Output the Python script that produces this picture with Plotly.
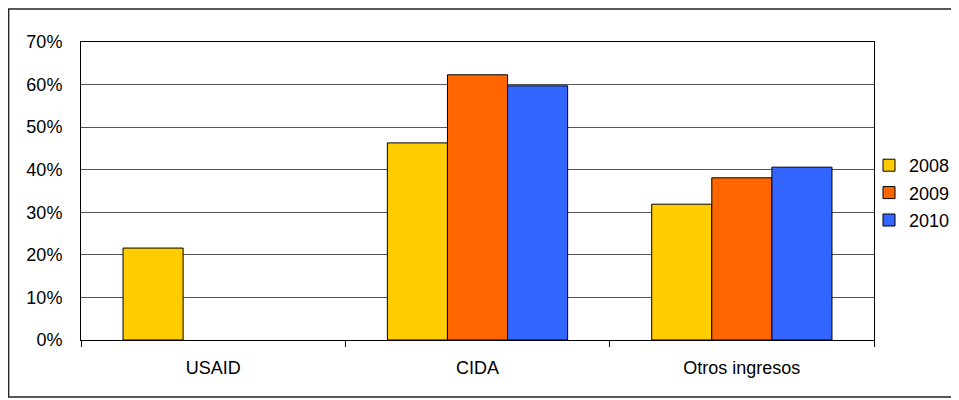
import plotly.graph_objects as go

categories = ["USAID", "CIDA", "Otros ingresos"]
years = ["2008", "2009", "2010"]
v2008 = [0.216, 0.463, 0.319]
v2009 = [None, 0.623, 0.381]
v2010 = [None, 0.597, 0.406]
y_ticks = [0, 0.1, 0.2, 0.3, 0.4, 0.5, 0.6, 0.7]
colors = ["#FFCC00", "#FF6600", "#3366FF"]

# page has an 8px body margin; figure coords = page coords - 8
OFF = 8
W, H = 959 - 2 * OFF, 400
L, R, T, B = 81 - OFF, W - (874 - OFF), 42 - OFF, H - (340 - OFF)
pw, ph = W - L - R, H - T - B

def px(xp):
    return (xp - OFF - L) / pw

def py(yp):
    return (H - B - (yp - OFF)) / ph

def cx(xp):
    return (xp - OFF) / W

def cy(yp):
    return 1 - (yp - OFF) / H

fig = go.Figure()
for name, vals, col in zip(years, [v2008, v2009, v2010], colors):
    fig.add_trace(go.Bar(
        x=categories, y=vals, name=name, legendgroup=name,
        marker=dict(color=col, line=dict(color="#000000", width=1)),
    ))

font = dict(family="Liberation Sans, Arial, sans-serif", size=18, color="#000000")

fig.update_layout(
    width=W, height=H,
    margin=dict(l=L, r=R, t=T, b=B, pad=0, autoexpand=False),
    paper_bgcolor="white", plot_bgcolor="white",
    barmode="group", bargap=0.318, bargroupgap=0,
    font=font,
    showlegend=True,
    legend=dict(xref="container", yref="container",
                x=cx(869), xanchor="left", y=cy(147), yanchor="top",
                font=font,
                traceorder="grouped", tracegroupgap=1,
                bgcolor="rgba(0,0,0,0)", borderwidth=0),
    xaxis=dict(showline=True, linecolor="#000", linewidth=1, mirror=True,
               ticks="outside", tickson="boundaries", ticklen=6, tickcolor="#000",
               showgrid=False, ticklabelstandoff=11),
    yaxis=dict(range=[0, 0.7], tickvals=y_ticks, tickformat=".0%",
               showline=True, linecolor="#000", linewidth=1, mirror=True,
               showgrid=True, gridcolor="#555555", gridwidth=1,
               ticks="", ticklabelstandoff=14, zeroline=False),
    shapes=[dict(type="rect", xref="paper", yref="paper",
                 x0=px(8.6), x1=px(1000), y0=py(397), y1=py(9),
                 line=dict(color="#222", width=1.5), layer="below")],
)

fig.write_html("out.html")
